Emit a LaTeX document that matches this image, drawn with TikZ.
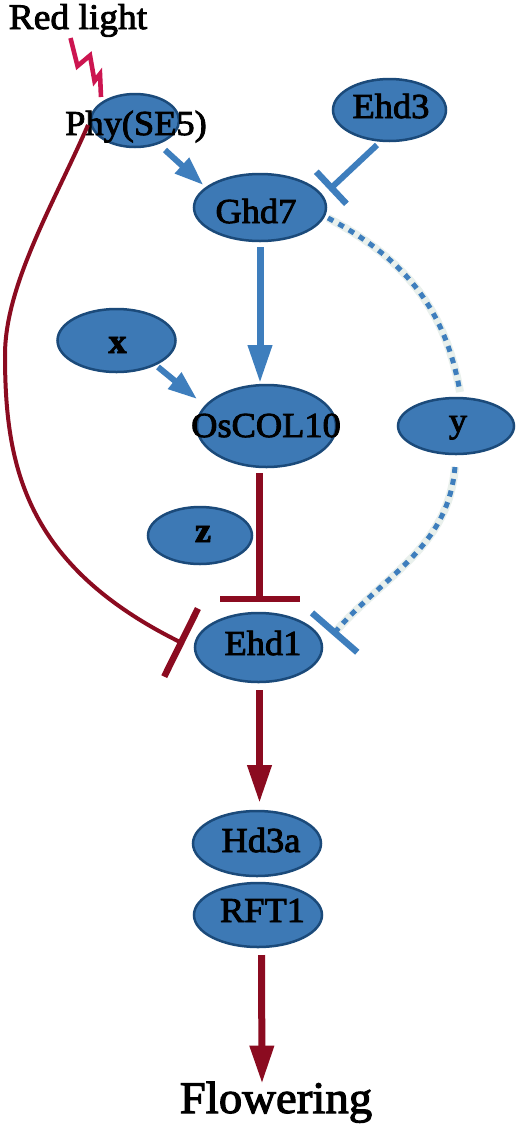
\documentclass[tikz,border=0pt]{standalone}
\usepackage{fontspec}
\setmainfont{Liberation Serif}
\newfontfamily\diafont[FakeStretch=1.04,FakeBold=2.5]{Liberation Serif}
\usetikzlibrary{arrows.meta,shapes.geometric,calc}
\definecolor{ellfill}{HTML}{3D79B5}
\definecolor{elldraw}{HTML}{1B4A7A}
\definecolor{bluearr}{HTML}{3E7EBD}
\definecolor{darkred}{HTML}{8B0B20}
\definecolor{boltred}{HTML}{CC1550}
\definecolor{paleline}{HTML}{E9F0EC}
\begin{document}
\begin{tikzpicture}[x=1pt,y=-1pt,
  ell/.style={ellipse, draw=elldraw, fill=ellfill, line width=2.5pt, inner sep=0pt},
  lbl/.style={font=\diafont\fontsize{35}{40}\selectfont, anchor=base, inner sep=0pt},
  blbl/.style={font=\diafont\bfseries\fontsize{35}{40}\selectfont, anchor=base, inner sep=0pt},
  bigarrow/.style={line width=7pt, -{Triangle[length=38pt,width=23pt]}},
  smallarrow/.style={draw=bluearr, line width=6pt, -{Triangle[length=29pt,width=20pt]}},
  inhibit/.style={-{Bar[width=#1,line width=6.5pt]}},
  dotline/.style={draw=bluearr, line width=5pt, dash pattern=on 6pt off 6pt,
     preaction={draw=paleline, line width=8pt, solid, arrows=-}},
  boltline/.style={draw=boltred, line width=4.6pt, line join=miter, miter limit=4}
]
\useasboundingbox[fill=white] (0,0) rectangle (520,1128);

% ellipses
\node[ell, minimum width=88pt, minimum height=53pt] (phy) at (135,120.5) {};
\node[ell, minimum width=113pt, minimum height=62pt] (ehd3) at (389.5,110) {};
\node[ell, minimum width=132pt, minimum height=67pt] (ghd7) at (260,207.5) {};
\node[ell, minimum width=118pt, minimum height=63pt] (xn) at (116.5,340.5) {};
\node[ell, minimum width=139pt, minimum height=82pt] (oscol) at (266.5,426) {};
\node[ell, minimum width=116pt, minimum height=56pt] (yn) at (456,426) {};
\node[ell, minimum width=104pt, minimum height=57pt] (zn) at (200,535.5) {};
\node[ell, minimum width=127pt, minimum height=69pt] (ehd1) at (258.5,647.5) {};
\node[ell, minimum width=128pt, minimum height=65pt] (hd3a) at (257,843.5) {};
\node[ell, minimum width=128pt, minimum height=64pt] (rft1) at (258,915) {};

% texts
\node[lbl, font=\diafont\fontsize{36}{40}\selectfont] (redlight) at (78,29) {Red light};
\node[lbl] (phyt) at (136,135) {Phy(SE5)};
\node[lbl] (ehd3t) at (391,118) {Ehd3};
\node[lbl] (ghd7t) at (256,223) {Ghd7};
\node[blbl] (xt) at (117.5,353) {x};
\node[lbl] (oscolt) at (266,437) {OsCOL10};
\node[lbl] (yt) at (458,432) {y};
\node[blbl] (zt) at (203,542) {z};
\node[lbl] (ehd1t) at (263,655) {Ehd1};
\node[lbl] (hd3at) at (261,852) {Hd3a};
\node[lbl] (rft1t) at (262.5,922) {RFT1};
\node[font=\diafont\fontsize{45}{50}\selectfont, anchor=base, inner sep=0pt] (flow) at (276,1113) {Flowering};

% red light bolt
\coordinate (boltstart) at (70.5,38);
\coordinate (boltend) at (101,97);
\draw[boltline] (boltstart) -- (77.5,66) -- (90,55.5) -- (94.5,81) -- (100,74) -- (boltend);

% blue activations
\draw[smallarrow] ($(phy)+(30,29.5)$) -- ($(ghd7)+(-56.7,-22.5)$);
\draw[smallarrow] ($(xn)+(41.5,26.5)$) -- ($(oscol)+(-69.5,-27)$);
\draw[bigarrow, draw=bluearr] ($(ghd7)+(0,39.5)$) -- ($(ghd7)+(0,175.5)$);

% Ehd3 inhibits Ghd7
\draw[draw=bluearr, line width=6pt, inhibit=44pt] ($(ehd3)+(-12.5,35)$) -- ($(ghd7)+(69,-17.5)$);

% dotted paths via y
\draw[dotline] ($(ghd7)+(68,10.5)$) to[out=-28,in=100] ($(yn)+(4,-34)$);
\draw[dotline, inhibit=60pt] ($(yn)+(-1,41)$) to[out=265,in=49] ($(ehd1)+(74,-12.5)$);

% OsCOL10 inhibits Ehd1
\draw[draw=darkred, line width=7.5pt, inhibit=80pt] ($(oscol)+(-7,47)$) -- ($(ehd1)+(1,-45.5)$);

% Phy inhibits Ehd1
\coordinate (leftmost) at (5,355);
\draw[draw=darkred, line width=4pt, inhibit=76pt] ($(phy)+(-47,4.5)$) .. controls +(-34,78) and +(0,-70) .. (leftmost)
   .. controls +(0,110) and +(-159.5,-79) .. ($(ehd1)+(-74.5,-3.5)$);

% Ehd1 -> Hd3a, RFT1 -> Flowering
\draw[bigarrow, draw=darkred] ($(ehd1)+(1,42.5)$) -- ($(hd3a)+(2.5,-40.5)$);
\draw[bigarrow, draw=darkred] ($(rft1)+(3.5,40)$) -- ($(flow.north)+(-14,2)$);
\end{tikzpicture}
\end{document}
